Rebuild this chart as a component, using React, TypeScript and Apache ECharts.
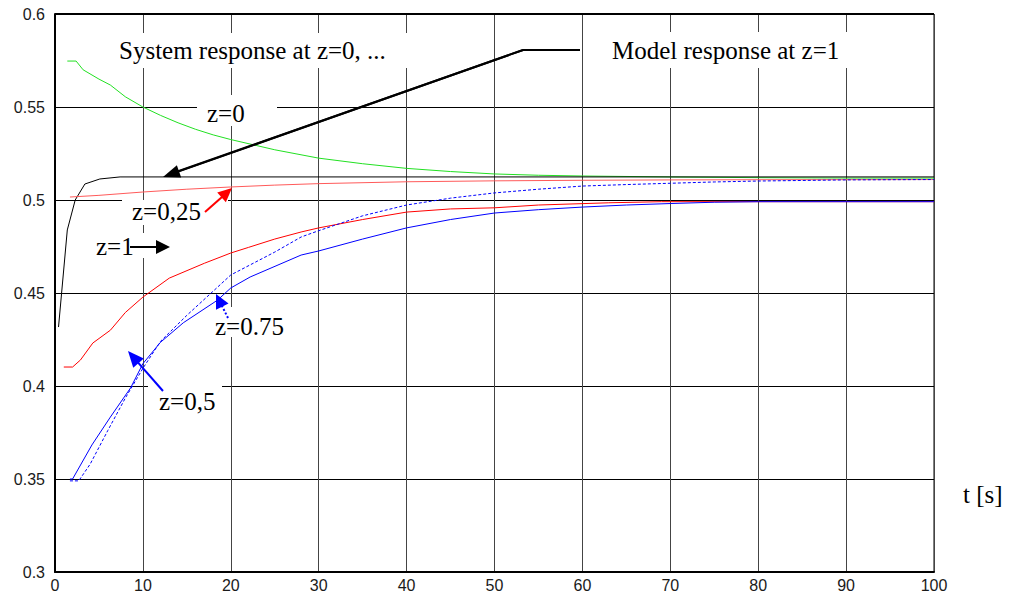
import React, { useEffect, useRef } from "react";
import * as echarts from "echarts";

// ---- data (t in seconds, response values) ----
const tZ0 = [1.4, 2.4, 3.2, 5, 6.3, 8, 10, 12, 14, 16, 18, 20, 25, 30, 35, 40, 45, 50, 55, 60, 70, 80, 90, 100];
const yZ0 = [0.5747, 0.5747, 0.570, 0.565, 0.5618, 0.5555, 0.55, 0.5455, 0.5415, 0.538, 0.535, 0.5325, 0.527, 0.5225, 0.5195, 0.517, 0.5153, 0.514, 0.5133, 0.5129, 0.5124, 0.512, 0.5118, 0.5118];

const tModel = [0.4, 1.4, 2.3, 3.4, 5.1, 7.4, 100];
const yModel = [0.4317, 0.4839, 0.5, 0.5086, 0.5113, 0.5124, 0.5124];

const tZ025 = [1.7, 5, 10, 15, 20, 25, 30, 40, 50, 60, 70, 80, 100];
const yZ025 = [0.5016, 0.5025, 0.5043, 0.5058, 0.507, 0.508, 0.5088, 0.5098, 0.5103, 0.5106, 0.5108, 0.5109, 0.511];

const tRedLow = [1, 2, 2.9, 4.3, 6.3, 8, 10, 13, 17, 20, 22, 25, 28, 30, 35, 40, 45, 50, 55, 63, 69, 100];
const yRedLow = [0.4102, 0.4102, 0.414, 0.4231, 0.43, 0.4395, 0.4478, 0.458, 0.466, 0.4715, 0.4745, 0.479, 0.4828, 0.485, 0.4895, 0.4935, 0.4952, 0.4958, 0.4973, 0.4985, 0.4991, 0.4991];

const tZ05 = [1.7, 2, 4.2, 6.3, 8.6, 10, 12, 14.6, 18.5, 20, 22.2, 28, 30, 35, 40, 45, 50, 55, 60, 65, 70, 75, 80, 100];
const yZ05 = [0.35, 0.35, 0.3683, 0.3833, 0.399, 0.412, 0.4235, 0.434, 0.4462, 0.4527, 0.4586, 0.4704, 0.4726, 0.479, 0.485, 0.4895, 0.493, 0.4948, 0.4962, 0.4973, 0.4981, 0.4988, 0.4991, 0.4991];

const tZ075 = [1.7, 2.7, 4, 6, 8, 10, 12, 15, 18, 20, 25, 28, 30, 35, 40, 45, 50, 55, 60, 65, 70, 75, 80, 90, 100];
const yZ075 = [0.349, 0.349, 0.358, 0.376, 0.3935, 0.4095, 0.424, 0.438, 0.451, 0.4597, 0.472, 0.4801, 0.4835, 0.4915, 0.4973, 0.501, 0.5038, 0.5058, 0.5075, 0.5083, 0.509, 0.5097, 0.5102, 0.5108, 0.511];

const X_MIN = 0, X_MAX = 100, X_STEP = 10;
const Y_MIN = 0.3, Y_MAX = 0.6, Y_STEP = 0.05;

const zip = (t: number[], y: number[]) => t.map((v, i) => [v, y[i]]);

const SERIF = "Liberation Serif";

function arrow(x0: number, y0: number, x1: number, y1: number, color: string, width: number, len: number, half: number, dash?: number[]) {
  const dx = x1 - x0, dy = y1 - y0;
  const L = Math.hypot(dx, dy);
  const ux = dx / L, uy = dy / L;
  const bx = x1 - ux * len, by = y1 - uy * len;
  return [
    {
      type: "line", z: 20,
      shape: { x1: x0, y1: y0, x2: bx + ux * 1, y2: by + uy * 1 },
      style: { stroke: color, lineWidth: width, lineDash: dash || null },
    },
    {
      type: "polygon", z: 20,
      shape: { points: [[x1, y1], [bx - uy * half, by + ux * half], [bx + uy * half, by - ux * half]] },
      style: { fill: color },
    },
  ];
}

function box(x: number, y: number, w: number, h: number) {
  return { type: "rect", z: 5, shape: { x, y, width: w, height: h }, style: { fill: "#fff" } };
}

function label(text: string, x: number, y: number) {
  return {
    type: "text", z: 21, x, y,
    style: { text, fontFamily: SERIF, fontSize: 25, fill: "#000", verticalAlign: "middle", align: "left" },
  };
}

export default function App() {
  const ref = useRef<HTMLDivElement>(null);
  useEffect(() => {
    if (!ref.current) return;
    const chart = echarts.init(ref.current, null, { renderer: "svg" });
    const axisLabel = { fontFamily: "Liberation Sans", fontSize: 16, color: "#1a1a1a" };
    const line = (name: string, data: number[][], color: string, dashed = false) => ({
      name, type: "line", data, showSymbol: false, symbol: "none", z: 3,
      lineStyle: { color, width: 1, type: dashed ? [3, 2] : "solid" },
      itemStyle: { color },
    });
    chart.setOption({
      animation: false,
      grid: { left: 55, right: 77, top: 14, bottom: 26, show: true, borderColor: "#000", borderWidth: 1 },
      xAxis: {
        type: "value", min: X_MIN, max: X_MAX, interval: X_STEP,
        axisLine: { show: true, lineStyle: { color: "#000", width: 2 } },
        axisTick: { show: false },
        axisLabel: { ...axisLabel, margin: 5 },
        splitLine: { show: true, lineStyle: { color: "#444", width: 1 } },
      },
      yAxis: {
        type: "value", min: Y_MIN, max: Y_MAX, interval: Y_STEP,
        axisLine: { show: true, lineStyle: { color: "#000", width: 2 } },
        axisTick: { show: false },
        axisLabel: { ...axisLabel, margin: 10 },
        splitLine: { show: true, lineStyle: { color: "#000", width: 1 } },
      },
      series: [
        line("z=0", zip(tZ0, yZ0), "#22e022"),
        line("Model z=1", zip(tModel, yModel), "#000000"),
        line("z=0,25", zip(tZ025, yZ025), "#ff5a5a"),
        line("red lower", zip(tRedLow, yRedLow), "#ff0000"),
        line("z=0,5", zip(tZ05, yZ05), "#0000ff"),
        line("z=0.75", zip(tZ075, yZ075), "#0000ff", true),
      ],
      graphic: [
        { type: "line", z: 6, shape: { x1: 55, y1: 14, x2: 934, y2: 14 }, style: { stroke: "#000", lineWidth: 2 } },
        box(108, 33, 312, 35),
        box(590, 32, 265, 36),
        box(197, 95, 80, 31),
        box(122, 200, 106, 25),
        box(93, 233, 57, 25),
        box(212, 307, 73, 30),
        box(148, 386, 74, 32),
        label("System response at z=0, ...", 119, 50.6),
        label("Model response at z=1", 612, 50.6),
        label("z=0", 207, 113.6),
        label("z=0,25", 132, 211.6),
        label("z=1", 96, 246.6),
        label("z=0.75", 215, 326.6),
        label("z=0,5", 159, 401.6),
        label("t [s]", 963, 494.6),
        { type: "polyline", z: 20, shape: { points: [[580, 50], [523, 50], [176, 172]] }, style: { stroke: "#000", lineWidth: 2, fill: null } },
        ...arrow(523, 50, 163, 177, "#000", 2, 17, 6.5),
        ...arrow(130, 247, 170, 247, "#000", 2, 14, 7),
        ...arrow(205, 212, 232, 188, "#ff0000", 2, 14, 6.5),
        ...arrow(228, 318, 216, 294, "#0000ff", 2, 14, 7, [2, 2]),
        ...arrow(163, 391, 128, 351, "#0000ff", 2, 16, 7),
      ],
    });
    return () => chart.dispose();
  }, []);
  return <div ref={ref} style={{ position: "absolute", left: 0, top: 0, width: 1011, height: 598 }} />;
}
